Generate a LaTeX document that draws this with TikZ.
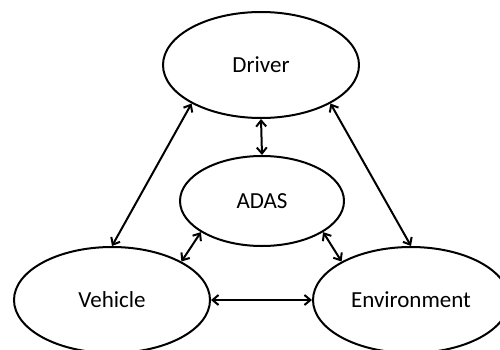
\documentclass[tikz,border=0pt]{standalone}
\usepackage{fontspec}
\setmainfont{Carlito}
\usetikzlibrary{shapes.geometric,arrows.meta}
\begin{document}
\begin{tikzpicture}[x=1pt,y=1pt,
  ell/.style={draw=black, line width=2pt, ellipse, inner sep=0pt, font=\fontsize{23}{27}\selectfont},
  link/.style={line width=2pt, {Straight Barb[length=6pt,width=10pt]}-{Straight Barb[length=6pt,width=10pt]}}]
\useasboundingbox (0,0) rectangle (500,349);
\clip (0,0) rectangle (500,349);
\fill[white] (0,0) rectangle (500,349);
\node[ell, minimum width=196pt, minimum height=106pt] (D) at (261,284) {Driver};
\node[ell, minimum width=164pt, minimum height=90pt] (A) at (262,148) {ADAS};
\node[ell, minimum width=196pt, minimum height=106pt] (V) at (112,49) {Vehicle};
\node[ell, minimum width=196pt, minimum height=106pt] (E) at (411,49) {Environment};
\draw[link] (D.south) -- (A.north);
\draw[link] (D.209) -- (V.90);
\draw[link] (D.331) -- (E.90);
\draw[link] (A.207) -- (V.29);
\draw[link] (A.333) -- (E.151);
\draw[link] (V.east) -- (E.west);
\end{tikzpicture}
\end{document}
